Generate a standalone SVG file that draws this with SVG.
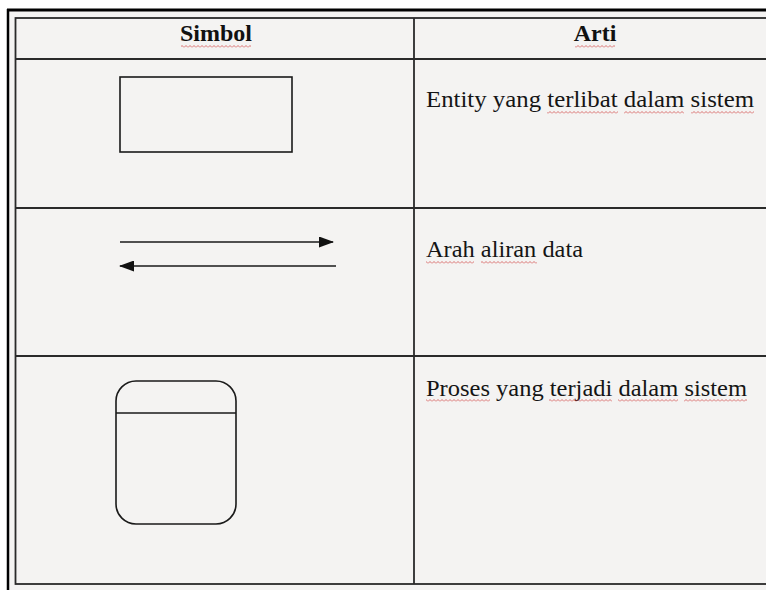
<svg xmlns="http://www.w3.org/2000/svg" width="766" height="590" viewBox="0 0 766 590">
  <style>
    .grid { stroke: #2a2a2a; stroke-width: 1.8; fill: none; }
    .frame { stroke: #000; fill: none; }
    .sym { stroke: #1a1a1a; stroke-width: 1.6; fill: none; }
    .head { font-family: "Liberation Serif", "Times New Roman", serif; font-weight: bold; font-size: 24px; fill: #111; }
    .body { font-family: "Liberation Serif", "Times New Roman", serif; font-size: 24px; fill: #151515; }
  </style>
  <defs>
    <pattern id="wave" x="0" y="0" width="4" height="3" patternUnits="userSpaceOnUse">
      <path d="M0,2.5 L2,0.5 L4,2.5" fill="none" stroke="#d24a4a" stroke-width="0.9" stroke-opacity="0.85"/>
    </pattern>
    <marker id="arrow" markerWidth="15" markerHeight="11" refX="14" refY="5.5" orient="auto" markerUnits="userSpaceOnUse">
      <path d="M0,0 L15,5.5 L0,11 Z" fill="#111"/>
    </marker>
  </defs>

  <rect x="0" y="0" width="766" height="590" fill="#ffffff"/>
  <rect x="8" y="10" width="770" height="590" fill="#f4f3f2"/>

  <!-- outer frame -->
  <line class="frame" x1="7" y1="10" x2="766" y2="10" stroke-width="3"/>
  <line class="frame" x1="8" y1="9" x2="8" y2="590" stroke-width="2.5"/>

  <!-- table grid -->
  <g id="table">
    <rect class="grid" x="15.5" y="18" width="770" height="566"/>
    <line class="grid" x1="15.5" y1="59" x2="766" y2="59"/>
    <line class="grid" x1="15.5" y1="208" x2="766" y2="208"/>
    <line class="grid" x1="15.5" y1="356" x2="766" y2="356"/>
    <line class="grid" x1="414" y1="18" x2="414" y2="584"/>
  </g>

  <!-- headers -->
  <g id="header-simbol">
    <text class="head" x="216" y="41" text-anchor="middle">Simbol</text>
    <rect x="181" y="45" width="70" height="3" fill="url(#wave)"/>
  </g>
  <g id="header-arti">
    <text class="head" x="595" y="41" text-anchor="middle">Arti</text>
    <rect x="575" y="45" width="40" height="3" fill="url(#wave)"/>
  </g>

  <!-- row 1: entity -->
  <g id="entity-symbol">
    <rect class="sym" x="120" y="77" width="172" height="75"/>
  </g>
  <g id="entity-text">
    <text class="body" x="426" y="107" textLength="328" lengthAdjust="spacingAndGlyphs">Entity yang terlibat dalam sistem</text>
    <rect x="547" y="111" width="71" height="3" fill="url(#wave)"/>
    <rect x="624" y="111" width="60" height="3" fill="url(#wave)"/>
    <rect x="691" y="111" width="63" height="3" fill="url(#wave)"/>
  </g>

  <!-- row 2: data flow -->
  <g id="connectors">
    <line class="sym" x1="120" y1="242" x2="333" y2="242" marker-end="url(#arrow)"/>
    <line class="sym" x1="336" y1="266" x2="120" y2="266" marker-end="url(#arrow)"/>
  </g>
  <g id="flow-text">
    <text class="body" x="426" y="257" textLength="157" lengthAdjust="spacingAndGlyphs">Arah aliran data</text>
    <rect x="426" y="261" width="48" height="3" fill="url(#wave)"/>
    <rect x="481" y="261" width="56" height="3" fill="url(#wave)"/>
  </g>

  <!-- row 3: process -->
  <g id="process-symbol">
    <rect class="sym" x="116" y="381" width="120" height="143" rx="20" ry="20" stroke="#333"/>
    <line class="sym" x1="116" y1="413" x2="236" y2="413" stroke="#333"/>
  </g>
  <g id="process-text">
    <text class="body" x="426" y="396" textLength="321" lengthAdjust="spacingAndGlyphs">Proses yang terjadi dalam sistem</text>
    <rect x="426" y="399" width="64" height="3" fill="url(#wave)"/>
    <rect x="549" y="399" width="63" height="3" fill="url(#wave)"/>
    <rect x="618" y="399" width="60" height="3" fill="url(#wave)"/>
    <rect x="684" y="399" width="63" height="3" fill="url(#wave)"/>
  </g>
</svg>
